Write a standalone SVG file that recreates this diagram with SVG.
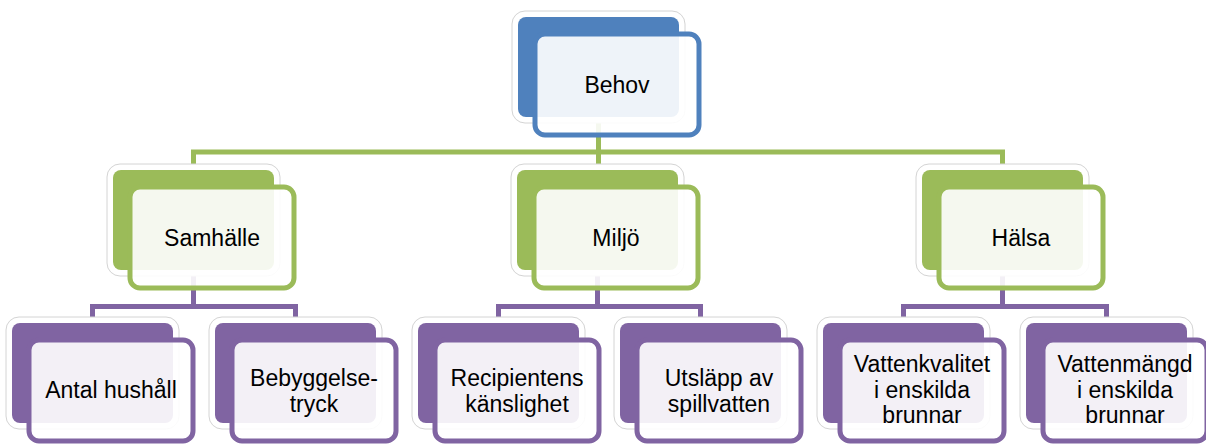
<svg xmlns="http://www.w3.org/2000/svg" width="1206" height="445" viewBox="0 0 1206 445">
<style>
.halo{fill:#ffffff;stroke:#d4d4d4;stroke-width:1}
.front{fill:#ffffff;fill-opacity:0.9;stroke-width:5}
.bb{fill:#4F81BD}.fb{stroke:#4F81BD}
.bg{fill:#9BBB59}.fg{stroke:#9BBB59}
.bp{fill:#8064A2}.fp{stroke:#8064A2}
.conn{fill:none;stroke-width:5}
.cg{stroke:#9BBB59}.cp{stroke:#8064A2}
text{font-family:"Liberation Sans",Arial,sans-serif;font-size:23px;fill:#000;text-anchor:middle}
</style>
<g id="connectors">
<path class="conn cg" d="M598.5 117V152M193.5 170V152H1002.5V170M598.5 152V170"/>
<path class="conn cp" d="M193.5 270V306.5M92.5 323V306.5H295.5V323"/>
<path class="conn cp" d="M597.5 270V306.5M498.5 323V306.5H700.5V323"/>
<path class="conn cp" d="M1002.5 270V306.5M903.5 323V306.5H1106.5V323"/>
</g>
<g id="behov" transform="translate(518,17)">
<rect class="halo" x="-6" y="-6" width="173" height="112" rx="13"/><rect class="bb" width="161" height="100" rx="8"/><rect class="front fb" x="17" y="17" width="164" height="101" rx="10"/>
<text x="99" y="76">Behov</text></g>
<g id="samhalle" transform="translate(113,170)">
<rect class="halo" x="-6" y="-6" width="173" height="112" rx="13"/><rect class="bg" width="161" height="100" rx="8"/><rect class="front fg" x="17" y="17" width="164" height="101" rx="10"/>
<text x="99" y="76">Samhälle</text></g>
<g id="miljo" transform="translate(517,170)">
<rect class="halo" x="-6" y="-6" width="173" height="112" rx="13"/><rect class="bg" width="161" height="100" rx="8"/><rect class="front fg" x="17" y="17" width="164" height="101" rx="10"/>
<text x="99" y="76">Miljö</text></g>
<g id="halsa" transform="translate(922,170)">
<rect class="halo" x="-6" y="-6" width="173" height="112" rx="13"/><rect class="bg" width="161" height="100" rx="8"/><rect class="front fg" x="17" y="17" width="164" height="101" rx="10"/>
<text x="99" y="76">Hälsa</text></g>
<g id="antal" transform="translate(12,323)">
<rect class="halo" x="-6" y="-6" width="173" height="112" rx="13"/><rect class="bp" width="161" height="100" rx="8"/><rect class="front fp" x="17" y="17" width="164" height="101" rx="10"/>
<text x="99" y="75">Antal hushåll</text></g>
<g id="bebyggelse" transform="translate(215,323)">
<rect class="halo" x="-6" y="-6" width="173" height="112" rx="13"/><rect class="bp" width="161" height="100" rx="8"/><rect class="front fp" x="17" y="17" width="164" height="101" rx="10"/>
<text x="99" y="63">Bebyggelse-</text><text x="99" y="89">tryck</text></g>
<g id="recipientens" transform="translate(418,323)">
<rect class="halo" x="-6" y="-6" width="173" height="112" rx="13"/><rect class="bp" width="161" height="100" rx="8"/><rect class="front fp" x="17" y="17" width="164" height="101" rx="10"/>
<text x="99" y="63">Recipientens</text><text x="99" y="89">känslighet</text></g>
<g id="utslapp" transform="translate(620,323)">
<rect class="halo" x="-6" y="-6" width="173" height="112" rx="13"/><rect class="bp" width="161" height="100" rx="8"/><rect class="front fp" x="17" y="17" width="164" height="101" rx="10"/>
<text x="99" y="63">Utsläpp av</text><text x="99" y="89">spillvatten</text></g>
<g id="vattenkvalitet" transform="translate(823,323)">
<rect class="halo" x="-6" y="-6" width="173" height="112" rx="13"/><rect class="bp" width="161" height="100" rx="8"/><rect class="front fp" x="17" y="17" width="164" height="101" rx="10"/>
<text x="99" y="49">Vattenkvalitet</text><text x="99" y="75">i enskilda</text><text x="99" y="100">brunnar</text></g>
<g id="vattenmangd" transform="translate(1026,323)">
<rect class="halo" x="-6" y="-6" width="173" height="112" rx="13"/><rect class="bp" width="161" height="100" rx="8"/><rect class="front fp" x="17" y="17" width="164" height="101" rx="10"/>
<text x="99" y="49">Vattenmängd</text><text x="99" y="75">i enskilda</text><text x="99" y="100">brunnar</text></g>
</svg>
